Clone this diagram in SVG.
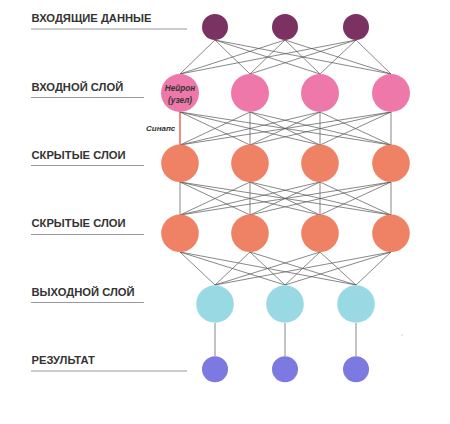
<svg xmlns="http://www.w3.org/2000/svg" width="450" height="424" viewBox="0 0 450 424">
<style>
.lbl{font-family:"Liberation Sans",Arial,sans-serif;font-weight:bold;font-size:11.2px;fill:#333}
.ul{stroke:#999;stroke-width:1}
.c{stroke:#555;stroke-width:0.7;fill:none}
.n1{fill:#7b3162}.n2{fill:#ef78aa}.n3{fill:#ef8265}.n4{fill:#99d9e4}.n5{fill:#7c79e0}
.it{font-family:"Liberation Sans",Arial,sans-serif;font-style:italic;font-weight:bold;fill:#333}
</style>
<rect width="450" height="424" fill="#fff"/>
<g id="labels">
<text class="lbl" x="31.5" y="21.5">ВХОДЯЩИЕ ДАННЫЕ</text><line class="ul" x1="31" y1="29" x2="187" y2="29"/>
<text class="lbl" x="31.5" y="90.5">ВХОДНОЙ СЛОЙ</text><line class="ul" x1="31" y1="97.5" x2="144" y2="97.5"/>
<text class="lbl" x="31.5" y="159">СКРЫТЫЕ СЛОИ</text><line class="ul" x1="31" y1="165.5" x2="144" y2="165.5"/>
<text class="lbl" x="31.5" y="227">СКРЫТЫЕ СЛОИ</text><line class="ul" x1="31" y1="234.5" x2="144" y2="234.5"/>
<text class="lbl" x="31.5" y="295.5">ВЫХОДНОЙ СЛОЙ</text><line class="ul" x1="31" y1="302.5" x2="144" y2="302.5"/>
<text class="lbl" x="31.5" y="364">РЕЗУЛЬТАТ</text><line class="ul" x1="31" y1="371" x2="187" y2="371"/>
</g>
<g id="connectors">
<path class="c" d="M215 40L180 74M215 40L250 74M215 40L320 74M215 40L391 74M285 40L180 74M285 40L250 74M285 40L320 74M285 40L391 74M356 40L180 74M356 40L250 74M356 40L320 74M356 40L391 74"/>
<path class="c" d="M180 112L250 145M180 112L320 145M180 112L391 145M250 112L180 145M250 112L250 145M250 112L320 145M250 112L391 145M320 112L180 145M320 112L250 145M320 112L320 145M320 112L391 145M391 112L180 145M391 112L250 145M391 112L320 145M391 112L391 145"/>
<path d="M180 112L180 145" stroke="#e8412c" stroke-width="1.2"/>
<path class="c" d="M180 182L180 215M180 182L250 215M180 182L320 215M180 182L391 215M250 182L180 215M250 182L250 215M250 182L320 215M250 182L391 215M320 182L180 215M320 182L250 215M320 182L320 215M320 182L391 215M391 182L180 215M391 182L250 215M391 182L320 215M391 182L391 215"/>
<path class="c" d="M180 252L215 285M180 252L285 285M180 252L356 285M250 252L215 285M250 252L285 285M250 252L356 285M320 252L215 285M320 252L285 285M320 252L356 285M391 252L215 285M391 252L285 285M391 252L356 285"/>
<path d="M215 323L215 356M285 323L285 356M356 323L356 356" stroke="#888" stroke-width="1"/>
</g>
<g id="input-data">
<circle class="n1" cx="215" cy="27" r="13"/><circle class="n1" cx="285" cy="27" r="13"/><circle class="n1" cx="356" cy="27" r="13"/>
</g>
<g id="input-layer">
<circle class="n2" cx="180" cy="93" r="19"/><circle class="n2" cx="250" cy="93" r="19"/><circle class="n2" cx="320" cy="93" r="19"/><circle class="n2" cx="391" cy="93" r="19"/>
<text class="it" font-size="8.2" x="180" y="90.5" text-anchor="middle">Нейрон</text>
<text class="it" font-size="8.2" x="180" y="102.7" text-anchor="middle">(узел)</text>
</g>
<g id="synapse-label"><text class="it" font-size="8" font-weight="normal" x="146" y="131">Синапс</text></g>
<g id="hidden-1">
<circle class="n3" cx="180" cy="163.3" r="18.8"/><circle class="n3" cx="250" cy="163.3" r="18.8"/><circle class="n3" cx="320" cy="163.3" r="18.8"/><circle class="n3" cx="391" cy="163.3" r="18.8"/>
</g>
<g id="hidden-2">
<circle class="n3" cx="180" cy="233.3" r="18.8"/><circle class="n3" cx="250" cy="233.3" r="18.8"/><circle class="n3" cx="320" cy="233.3" r="18.8"/><circle class="n3" cx="391" cy="233.3" r="18.8"/>
</g>
<g id="output-layer">
<circle class="n4" cx="215" cy="304" r="18.8"/><circle class="n4" cx="285" cy="304" r="18.8"/><circle class="n4" cx="356" cy="304" r="18.8"/>
</g>
<g id="result">
<circle class="n5" cx="215" cy="369.3" r="13"/><circle class="n5" cx="285" cy="369.3" r="13"/><circle class="n5" cx="356" cy="369.3" r="13"/>
</g>
<circle cx="402" cy="335" r="0.6" fill="#999"/>
</svg>
